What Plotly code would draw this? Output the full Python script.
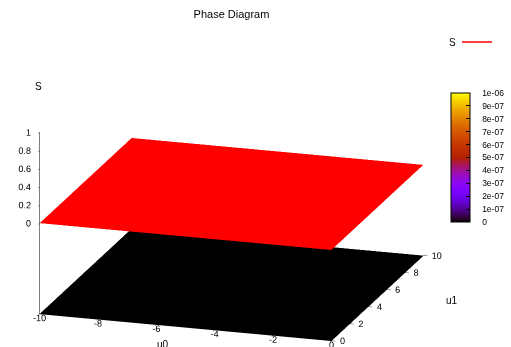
import numpy as np
import plotly.graph_objects as go

# ---- data ----
u0 = [-10, -8, -6, -4, -2, 0]
u1 = [0, 2, 4, 6, 8, 10]
S = [[0.0] * len(u0) for _ in u1]          # S(u0, u1) – flat zero surface
u0_labels = ["-10", "-8", "-6", "-4", "-2", "0"]
u1_labels = ["0", "2", "4", "6", "8", "10"]
z_ticks = [0, 0.2, 0.4, 0.6, 0.8, 1]
z_labels = ["0", "0.2", "0.4", "0.6", "0.8", "1"]
cb_ticks = [0, 1e-7, 2e-7, 3e-7, 4e-7, 5e-7, 6e-7, 7e-7, 8e-7, 9e-7, 1e-6]
cb_labels = ["0", "1e-07", "2e-07", "3e-07", "4e-07", "5e-07",
             "6e-07", "7e-07", "8e-07", "9e-07", "1e-06"]
base_level = -1.0

# gnuplot default pm3d palette (rgbformulae 7,5,15)
def gp_color(t):
    r = np.sqrt(t)
    g = t ** 3
    b = max(0.0, np.sin(2 * np.pi * t))
    return "rgb(%d,%d,%d)" % (round(255 * r), round(255 * g), round(255 * b))

stops = np.linspace(0, 1, 41)
palette = [[float(s), gp_color(s)] for s in stops]

flat_light = dict(ambient=1, diffuse=0, specular=0, roughness=1, fresnel=0)
FONT = "Liberation Sans"
TICKFONT = dict(family=FONT, size=9, color="black")
PAD = "\u00a0" * 4
LABEL_DZ = 0.09   # lift of the u0 tick labels above the base (z units)

fig = go.Figure()

# pm3d map projected on the base plane
Sarr = np.array(S)
fig.add_trace(go.Surface(
    x=u0, y=u1, z=np.full_like(Sarr, base_level), surfacecolor=Sarr,
    cmin=cb_ticks[0], cmax=cb_ticks[-1], colorscale=palette,
    lighting=flat_light, hoverinfo="skip", showlegend=False,
    colorbar=dict(
        x=451 / 511, xanchor="left", y=1 - 157.5 / 347, yanchor="middle",
        len=129 / 347, lenmode="fraction", thickness=19,
        xpad=0, ypad=0, outlinewidth=1, outlinecolor="black",
        ticks="inside", ticklen=4, tickcolor="black",
        tickvals=cb_ticks, ticktext=[PAD + t for t in cb_labels],
        tickfont=dict(family=FONT, size=8.5, color="black"),
    ),
))

# the surface S itself (red)
fig.add_trace(go.Surface(
    x=u0, y=u1, z=S, surfacecolor=Sarr,
    colorscale=[[0, "rgb(255,0,0)"], [1, "rgb(255,0,0)"]],
    showscale=False, lighting=flat_light, hoverinfo="skip", showlegend=False,
))

# tick labels (horizontal, gnuplot style)
fig.add_trace(go.Scatter3d(
    x=u0, y=[u1[0]] * len(u0), z=[base_level + LABEL_DZ] * len(u0),
    mode="text", text=u0_labels, textposition="bottom center",
    textfont=TICKFONT, hoverinfo="skip", showlegend=False,
))
fig.add_trace(go.Scatter3d(
    x=[u0[-1]] * len(u1), y=u1, z=[base_level] * len(u1),
    mode="text", text=u1_labels, textposition="middle right",
    textfont=TICKFONT, hoverinfo="skip", showlegend=False,
))
fig.add_trace(go.Scatter3d(
    x=[u0[0]] * len(z_ticks), y=[u1[0]] * len(z_ticks), z=z_ticks,
    mode="text", text=z_labels, textposition="middle left",
    textfont=TICKFONT, hoverinfo="skip", showlegend=False,
))

# legend entry
fig.add_trace(go.Scatter3d(
    x=[None], y=[None], z=[None], mode="lines", name=" ",
    line=dict(color="rgb(255,0,0)", width=1.5), showlegend=True,
))

ax_common = dict(
    showbackground=False, showgrid=False, zeroline=False,
    showline=True, linecolor="black", linewidth=1,
    ticks="outside", tickcolor="black", ticklen=4,
    showticklabels=False,
    title=dict(text=""), showspikes=False,
)

eye = np.array([0.2876, -0.912, 0.292]) * 1.5

fig.update_layout(
    width=511, height=347,
    margin=dict(l=0, r=0, t=0, b=0, autoexpand=False),
    paper_bgcolor="white",
    font=dict(family=FONT, size=10, color="black"),
    title=dict(text="Phase Diagram", x=231.5 / 511, xanchor="center",
               y=1 - 14 / 347, yanchor="middle",
               font=dict(family=FONT, size=11, color="black")),
    showlegend=True,
    legend=dict(x=457 / 511, y=1 - 42 / 347, xanchor="left", yanchor="middle",
                bgcolor="rgba(0,0,0,0)", font=dict(family=FONT, size=10)),
    scene=dict(
        domain=dict(x=[0.0, 0.906], y=[0.0, 0.882]),
        xaxis=dict(ax_common, range=[-10, 0], tickvals=u0),
        yaxis=dict(ax_common, range=[0, 10], tickvals=u1),
        zaxis=dict(ax_common, range=[-1, 1], tickvals=z_ticks),
        aspectmode="manual", aspectratio=dict(x=2, y=2, z=1.24),
        camera=dict(projection=dict(type="orthographic"),
                    eye=dict(x=eye[0], y=eye[1], z=eye[2]),
                    center=dict(x=0, y=0, z=0), up=dict(x=0, y=0, z=1)),
        bgcolor="white",
    ),
    annotations=[
        dict(text="S", x=38 / 511, y=1 - 87 / 347, xref="paper", yref="paper",
             xanchor="center", yanchor="middle",
             showarrow=False, font=dict(family=FONT, size=10)),
        dict(text="S", x=452 / 511, y=1 - 42 / 347, xref="paper", yref="paper",
             xanchor="center", yanchor="middle",
             showarrow=False, font=dict(family=FONT, size=10)),
        dict(text="u1", x=452 / 511, y=1 - 300 / 347, xref="paper", yref="paper",
             xanchor="center", yanchor="middle",
             showarrow=False, font=dict(family=FONT, size=10)),
        dict(text="u0", x=163 / 511, y=1 - 344 / 347, xref="paper", yref="paper",
             xanchor="center", yanchor="middle",
             showarrow=False, font=dict(family=FONT, size=10)),
    ],
)

fig.write_html("out.html", config={"displayModeBar": False},
               post_script="document.body.style.margin='0';")
